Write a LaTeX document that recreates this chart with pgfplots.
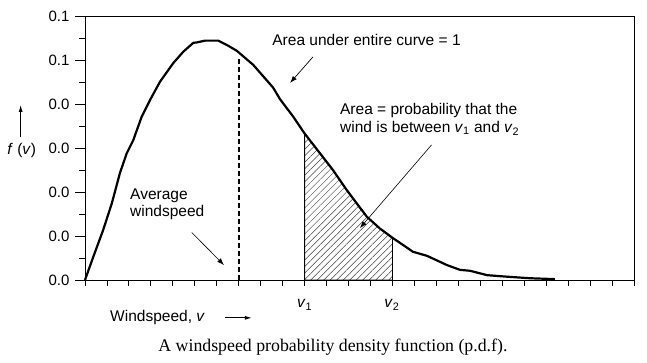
\documentclass[border=0pt]{standalone}
\usepackage{fontspec}
\setmainfont{Liberation Sans}
\newfontfamily\timesfont{Liberation Serif}
\usepackage{pgfplots}
\pgfplotsset{compat=1.18}
\usetikzlibrary{patterns.meta,arrows.meta}
\begin{document}
\begin{tikzpicture}
\path[use as bounding box] (0,0) rectangle (647bp,363bp);
% overlay axis: only the x ticks
\begin{axis}[
  at={(85bp,83bp)}, anchor=south west,
  scale only axis, width=549bp, height=264bp,
  xmin=0, xmax=25, ymin=0, ymax=6,
  axis line style={draw=none},
  tick align=inside,
  xtick={0,1,...,25}, xticklabels={},
  ytick=\empty,
  major tick length=-6bp,
  tick style={draw=black, line width=0.9bp},
  xtick pos=left,
]
\addplot[draw=none] coordinates {(0,0) (25,6)};
\end{axis}
\begin{axis}[
  at={(85bp,83bp)}, anchor=south west,
  scale only axis, width=549bp, height=264bp,
  xmin=0, xmax=25, ymin=0, ymax=6,
  clip=false,
  axis line style={line width=1bp},
  tick align=inside,
  xtick=\empty,
  ytick={0,1,...,6},
  yticklabels={0.0,0.0,0.0,0.0,0.0,0.1,0.1},
  minor y tick num=1,
  major tick length=-10bp,
  minor tick length=-6bp,
  tick style={draw=black, line width=0.9bp},
  yticklabel style={font=\fontsize{15bp}{18bp}\selectfont, anchor=east, xshift=-12bp},
  xtick pos=left, ytick pos=left,
]
% hatched area between v1 and v2
\addplot[draw=black, line width=0.8bp, pattern={Lines[angle=45,distance=4.6bp,line width=0.5bp]}, pattern color=black!75]
  coordinates {(10,0) (10,3.33) (10.70,2.88) (11.29,2.50) (11.91,2.05) (12.83,1.44) (13.43,1.17) (14,0.96) (14,0)} -- cycle;
% p.d.f. curve
\addplot[black, line width=2.2bp, line join=round] coordinates {
(0,0) (0.38,0.53) (0.83,1.14) (1.22,1.74) (1.59,2.43) (1.90,2.88) (2.20,3.18)
(2.58,3.71) (2.96,4.09) (3.42,4.51) (4.02,4.93) (4.48,5.19) (4.93,5.39)
(5.10,5.40) (5.46,5.44) (6.07,5.44) (6.50,5.33) (6.91,5.21) (7.66,4.89)
(8.57,4.37) (8.88,4.11) (9.47,3.72) (10,3.33) (10.70,2.88) (11.29,2.50)
(11.91,2.05) (12.83,1.44) (13.43,1.17) (14,0.96) (14.94,0.64) (15.57,0.55)
(16.48,0.34) (17.08,0.23) (17.53,0.21) (18.31,0.11) (19.22,0.075)
(20.26,0.04) (21.4,0.02)};
% average windspeed
\addplot[black, line width=2bp, dash pattern=on 5bp off 3bp] coordinates {(7,0) (7,5.02)};
% annotations
\node[font=\fontsize{15.5bp}{18.3bp}\selectfont] at (axis cs:12.82,5.45) {Area under entire curve = 1};
\draw[-{Latex[length=7bp,width=5bp]}, line width=0.7bp] (axis cs:10.38,5.07) -- (axis cs:9.34,4.48);
\node[font=\fontsize{15.5bp}{18.3bp}\selectfont, align=left, anchor=west, inner sep=0pt] at (axis cs:11.61,3.66)
  {Area = probability that the\\wind is between \textit{v}\textsubscript{1} and \textit{v}\textsubscript{2}};
\draw[-{Latex[length=7bp,width=5bp]}, line width=0.6bp] (axis cs:15.78,3.07) -- (axis cs:12.52,1.18);
\node[font=\fontsize{15.5bp}{17bp}\selectfont, align=left, anchor=west, inner sep=0pt] at (axis cs:2.05,1.73)
  {Average\\windspeed};
\draw[-{Latex[length=7bp,width=5bp]}, line width=0.6bp] (axis cs:4.86,1.08) -- (axis cs:6.33,0.34);
% y label
\node[font=\fontsize{15.5bp}{18bp}\selectfont] at (axis cs:-2.88,2.95) {\textit{f} (\textit{v})};
\draw[-{Latex[length=7bp,width=4bp]}, line width=1bp] (axis cs:-2.93,3.25) -- (axis cs:-2.93,3.98);
% x labels
\node[font=\fontsize{15.5bp}{18bp}\selectfont] at (axis cs:10,-0.57) {\textit{v}\textsubscript{1}};
\node[font=\fontsize{15.5bp}{18bp}\selectfont] at (axis cs:13.98,-0.57) {\textit{v}\textsubscript{2}};
\node[font=\fontsize{15.5bp}{18bp}\selectfont, anchor=west, inner sep=0pt] at (axis cs:1.14,-0.86) {Windspeed, \textit{v}};
\draw[-{Latex[length=7bp,width=4bp]}, line width=1bp] (axis cs:6.38,-0.86) -- (axis cs:7.6,-0.86);
% caption
\node[font=\timesfont\fontsize{17.8bp}{20bp}\selectfont] at (axis cs:11.29,-1.52) {A windspeed probability density function (p.d.f).};
\end{axis}
\end{tikzpicture}
\end{document}
